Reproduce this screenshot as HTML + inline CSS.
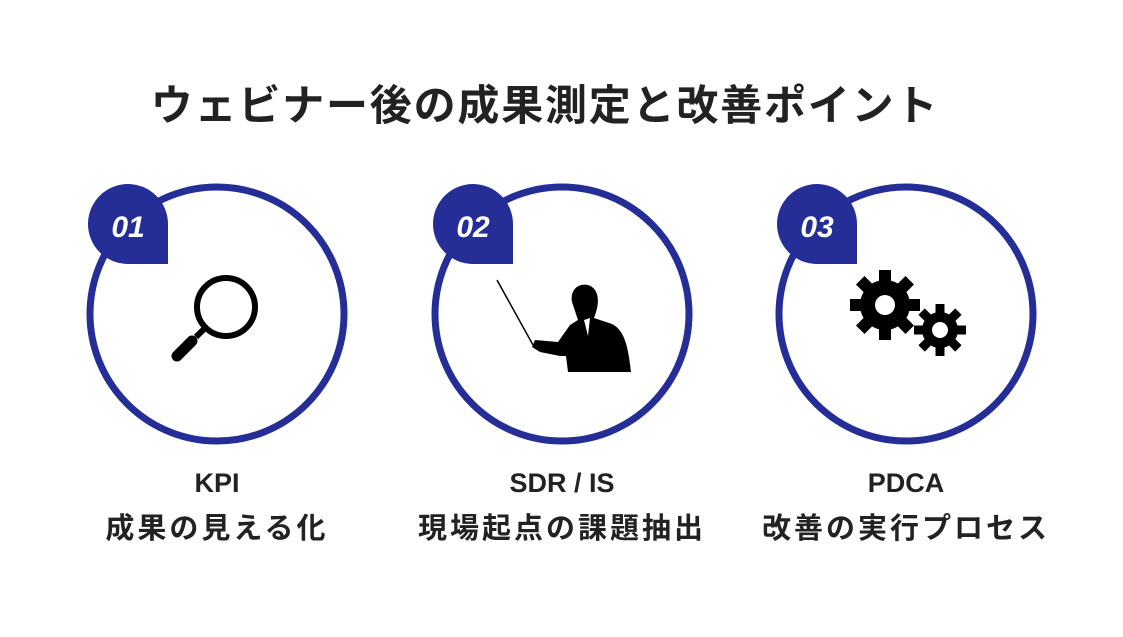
<!DOCTYPE html>
<html><head><meta charset="utf-8"><style>
body{margin:0;width:1123px;height:637px;background:#fff;overflow:hidden;position:relative;font-family:"Liberation Sans","Noto Sans CJK JP",sans-serif;}
.t{position:absolute;left:0;width:1090px;text-align:center;top:72px;font-size:42px;letter-spacing:1.8px;font-weight:bold;color:#222;}
.lab{position:absolute;width:320px;text-align:center;font-weight:bold;color:#222;}
.a{top:468px;font-size:27px}
.b{top:505px;font-size:29px;letter-spacing:3px}
</style></head><body>
<div class="t">ウェビナー後の成果測定と改善ポイント</div>
<svg width="1123" height="637" style="position:absolute;left:0;top:0">
<g fill="none" stroke="#252e96" stroke-width="7">
<circle cx="217" cy="314" r="127"/>
<circle cx="562" cy="314" r="127"/>
<circle cx="906" cy="314" r="127"/>
</g>
<g fill="#252e96">
<path d="M168 264 H127 A40 40 0 1 1 168 224 Z"/>
<path d="M513 264 H472 A40 40 0 1 1 513 224 Z"/>
<path d="M857 264 H816 A40 40 0 1 1 857 224 Z"/>
</g>
<g fill="#fff" font-size="30" font-weight="bold" font-style="italic" text-anchor="middle">
<text x="128" y="237">01</text><text x="473" y="237">02</text><text x="817" y="237">03</text>
</g>
<circle cx="226" cy="307" r="29" fill="none" stroke="#000" stroke-width="6"/>
<line x1="205" y1="328" x2="196" y2="337" stroke="#000" stroke-width="6"/>
<line x1="192" y1="341" x2="177" y2="356" stroke="#000" stroke-width="11" stroke-linecap="round"/>
<line x1="497" y1="280" x2="533" y2="345" stroke="#000" stroke-width="1.5"/>
<path d="M572 302 C570 290 578 283 588 285 C598 288 600 300 596 312 L594 318 L612 324 C624 330 628 345 631 372 L568 372 L566 356 L560 356 L540 352 L532 347 L535 340 L558 342 L570 325 L578 320 Z" fill="#000"/>
<path d="M584 320 L590 318 L588 336 Z" fill="#fff"/>
<g fill="#000">
<g transform="translate(885,305)">
<circle r="25"/>
<g id="tg"><rect x="-6" y="-35" width="12" height="12"/></g>
<use href="#tg" transform="rotate(45)"/><use href="#tg" transform="rotate(90)"/><use href="#tg" transform="rotate(135)"/><use href="#tg" transform="rotate(180)"/><use href="#tg" transform="rotate(225)"/><use href="#tg" transform="rotate(270)"/><use href="#tg" transform="rotate(315)"/>
<circle r="10" fill="#fff"/>
</g>
<g transform="translate(940,330)">
<circle r="18"/>
<g id="tg2"><rect x="-4.5" y="-26" width="9" height="10"/></g>
<use href="#tg2" transform="rotate(45)"/><use href="#tg2" transform="rotate(90)"/><use href="#tg2" transform="rotate(135)"/><use href="#tg2" transform="rotate(180)"/><use href="#tg2" transform="rotate(225)"/><use href="#tg2" transform="rotate(270)"/><use href="#tg2" transform="rotate(315)"/>
<circle r="8" fill="#fff"/>
</g>
</g>
</svg>
<div class="lab a" style="left:57px">KPI</div>
<div class="lab b" style="left:57px">成果の見える化</div>
<div class="lab a" style="left:402px">SDR / IS</div>
<div class="lab b" style="left:402px">現場起点の課題抽出</div>
<div class="lab a" style="left:746px">PDCA</div>
<div class="lab b" style="left:746px">改善の実行プロセス</div>
</body></html>
